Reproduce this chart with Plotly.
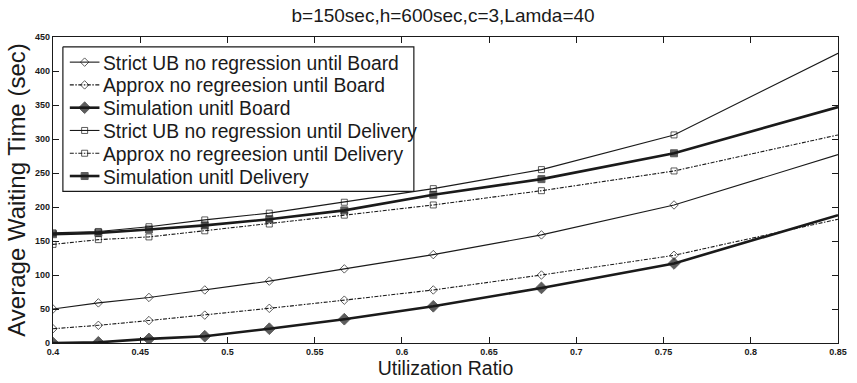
import plotly.graph_objects as go

# Utilization ratio sample points
utilization = [0.4, 0.426, 0.455, 0.487, 0.524, 0.567, 0.618, 0.68, 0.756, 0.85]

# Average waiting time (sec) per model
strict_ub_board = [50, 59, 67, 78, 91, 109, 130, 159, 203, 277]
approx_board = [21, 26, 33, 41, 51, 63, 78, 100, 129, 182]
sim_board = [0, 1, 6, 10, 21, 35, 54, 81, 117, 188]
strict_ub_delivery = [162, 164, 171, 181, 191, 207, 227, 255, 306, 426]
approx_delivery = [145, 152, 156, 165, 175, 188, 203, 224, 253, 306]
sim_delivery = [160, 162, 167, 173, 182, 195, 218, 241, 279, 347]

series_names = [
    "Strict UB no regression until Board",
    "Approx no regreesion until Board",
    "Simulation unitl Board",
    "Strict UB no regression until Delivery",
    "Approx no regreesion until Delivery",
    "Simulation unitl Delivery",
]
series_values = [strict_ub_board, approx_board, sim_board,
                 strict_ub_delivery, approx_delivery, sim_delivery]

# (marker symbol, marker size, line width, dash)
dashdot = "4px,1.5px,1.5px,1.5px"
styles = [
    ("diamond-open", 6.5, 1.1, "solid"),
    ("diamond-open", 6.5, 1.1, dashdot),
    ("diamond", 9, 2.6, "solid"),
    ("square-open", 6, 1.1, "solid"),
    ("square-open", 6, 1.1, dashdot),
    ("square", 7, 2.6, "solid"),
]

ink = "#1a1a1a"
W, H = 857, 383
ML, MR, MT, MB = 53, 10, 37, 33
PW, PH = W - ML - MR, H - MT - MB


def fx(px):
    return (px - ML) / PW


def fy(py):
    return (MT + PH - py) / PH


fig = go.Figure()
for name, vals, (symbol, size, width, dash) in zip(series_names, series_values, styles):
    # no marker on the last point, which sits on the right frame
    sizes = [size] * (len(vals) - 1) + [0]
    fig.add_trace(go.Scatter(
        x=utilization, y=vals, name=name, mode="lines+markers", showlegend=False,
        line=dict(color=ink, width=width, dash=dash),
        marker=dict(symbol=symbol, size=sizes, color=ink,
                    line=dict(color=ink, width=1)),
    ))

# Legend box drawn on an overlay axis pair spanning the plot area as [0, 1]
bx0, bx1, by0, by1 = fx(63), fx(418), fy(47), fy(195)
fig.add_trace(go.Scatter(
    x=[bx0, bx1, bx1, bx0, bx0], y=[by0, by0, by1, by1, by0],
    mode="lines", fill="toself", fillcolor="white",
    line=dict(color=ink, width=1.2), showlegend=False, hoverinfo="skip",
    xaxis="x2", yaxis="y2",
))

annotations = []
row_top, row_step = 62.7, 23.3
for i, (name, (symbol, size, width, dash)) in enumerate(zip(series_names, styles)):
    yrow = fy(row_top + i * row_step)
    fig.add_trace(go.Scatter(
        x=[fx(70), fx(85), fx(100)], y=[yrow] * 3, mode="lines+markers",
        line=dict(color=ink, width=width, dash=dash),
        marker=dict(symbol=symbol, size=[0, size, 0], color=ink,
                    line=dict(color=ink, width=1)),
        showlegend=False, hoverinfo="skip", xaxis="x2", yaxis="y2",
    ))
    annotations.append(dict(
        text=name, x=fx(102), y=yrow, xref="paper", yref="paper",
        xanchor="left", yanchor="middle", showarrow=False, yshift=-1,
        font=dict(size=19.3, color=ink),
    ))

tick_font = dict(family="Liberation Sans, Arial, sans-serif", size=9, color=ink,
                 weight="bold")
fig.update_layout(
    width=W, height=H,
    margin=dict(l=ML, r=MR, t=MT, b=MB),
    paper_bgcolor="white", plot_bgcolor="white",
    font=dict(family="Liberation Sans, Arial, sans-serif", color=ink),
    title=dict(text="b=150sec,h=600sec,c=3,Lamda=40", x=0.517, xanchor="center",
               y=0.96, yanchor="middle", font=dict(size=19)),
    showlegend=False,
    annotations=annotations,
    xaxis=dict(range=[0.4, 0.85], dtick=0.05, tick0=0.4, ticks="inside", ticklen=6,
               tickcolor=ink, showline=True, linecolor=ink, linewidth=1.2,
               mirror="ticks", showgrid=False, zeroline=False, tickfont=tick_font,
               tickformat="~g",
               title=dict(text="Utilization Ratio", font=dict(size=19.5), standoff=2)),
    yaxis=dict(range=[0, 450], dtick=50, ticks="inside", ticklen=6,
               tickcolor=ink, showline=True, linecolor=ink, linewidth=1.2,
               mirror="ticks", showgrid=False, zeroline=False, tickfont=tick_font,
               title=dict(text="Average Waiting Time (sec)", font=dict(size=24), standoff=2)),
    xaxis2=dict(range=[0, 1], overlaying="x", visible=False, fixedrange=True),
    yaxis2=dict(range=[0, 1], overlaying="y", visible=False, fixedrange=True),
)

fig.write_html("out.html")
